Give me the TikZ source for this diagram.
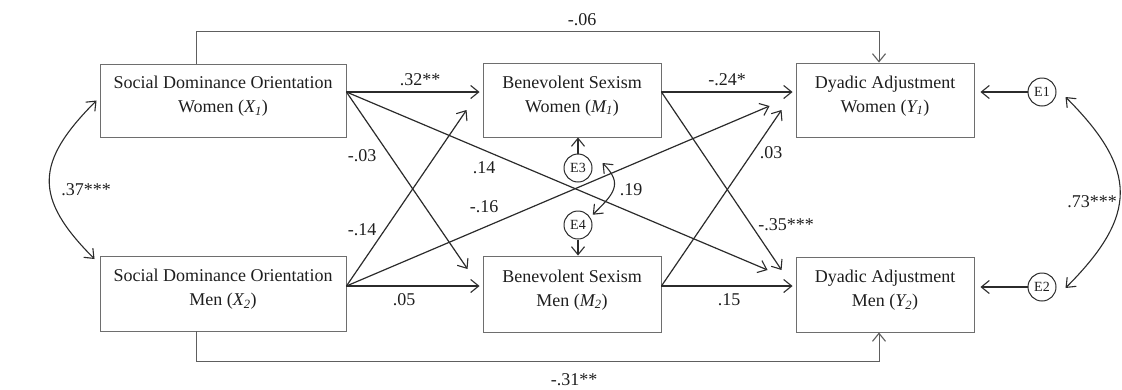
\documentclass[tikz,border=0pt]{standalone}
\usepackage{fontspec}
\setmainfont{Liberation Serif}
\usetikzlibrary{arrows.meta,calc}
\definecolor{boxgray}{HTML}{6E6E6E}
\definecolor{linec}{HTML}{2B2B2B}
\definecolor{txtc}{HTML}{1E1E1E}
\definecolor{pathgray}{HTML}{5E5E5E}
\begin{document}
\begin{tikzpicture}[x=1pt,y=1pt,
 box/.style={draw=boxgray, line width=0.9pt, inner sep=0pt},
 txt/.style={font=\fontsize{18}{24}\selectfont, text=txtc, inner sep=0pt, align=center},
 lbl/.style={font=\fontsize{18}{22}\selectfont, text=txtc, inner sep=0pt},
 err/.style={draw=linec, circle, line width=1pt, minimum size=28pt, inner sep=0pt, font=\fontsize{14}{16}\selectfont, text=txtc},
 arr/.style={draw=linec, line width=1.2pt, -{Straight Barb[length=8pt,width=13pt,line width=1.1pt]}},
 garr/.style={draw=pathgray, line width=1pt, -{Straight Barb[length=8pt,width=13pt,line width=1.1pt]}},
 dbl/.style={draw=linec, line width=1.1pt, {Straight Barb[length=8pt,width=13pt,line width=1.1pt]}-{Straight Barb[length=8pt,width=13pt,line width=1.1pt]}},
 ]
\useasboundingbox (0,0) rectangle (1122,-389);

% boxes
\node[box, minimum width=246pt, minimum height=73pt,
  label={[txt,yshift=4pt]center:{Social Dominance Orientation\\Women (\textit{X\textsubscript{1}})}}] (X1) at (223,-100.5) {};
\node[box, minimum width=246pt, minimum height=75pt,
  label={[txt,yshift=4pt]center:{Social Dominance Orientation\\Men (\textit{X\textsubscript{2}})}}] (X2) at (223,-293.5) {};
\node[box, minimum width=178pt, minimum height=74pt,
  label={[txt,yshift=4pt]center:{Benevolent Sexism\\Women (\textit{M\textsubscript{1}})}}] (M1) at (572,-100) {};
\node[box, minimum width=178pt, minimum height=76pt,
  label={[txt,yshift=4pt]center:{Benevolent Sexism\\Men (\textit{M\textsubscript{2}})}}] (M2) at (572,-294) {};
\node[box, minimum width=178pt, minimum height=74pt,
  label={[txt,yshift=4pt]center:{Dyadic Adjustment\\Women (\textit{Y\textsubscript{1}})}}] (Y1) at (885,-100) {};
\node[box, minimum width=178pt, minimum height=75pt,
  label={[txt,yshift=4pt]center:{Dyadic Adjustment\\Men (\textit{Y\textsubscript{2}})}}] (Y2) at (885,-294.5) {};

% error terms
\node[err] (E1) at (1042,-92) {E1};
\node[err] (E2) at (1042,-287) {E2};
\node[err] (E3) at (578,-168) {E3};
\node[err] (E4) at (578,-225) {E4};

% ports
\coordinate (X1o) at ([yshift=8.5pt]X1.east);
\coordinate (X2o) at ([yshift=7.5pt]X2.east);
\coordinate (M1o) at ([yshift=8pt]M1.east);
\coordinate (M2o) at ([yshift=8pt]M2.east);
\coordinate (M1a) at ([shift={(-3,8)}]M1.west);
\coordinate (M1b) at ([shift={(-16,-10)}]M1.west);
\coordinate (M2a) at ([shift={(-3,8)}]M2.west);
\coordinate (M2b) at ([shift={(-15,25)}]M2.west);
\coordinate (Y1a) at ([shift={(-3,8)}]Y1.west);
\coordinate (Y1b) at ([shift={(-26,-6)}]Y1.west);
\coordinate (Y1c) at ([shift={(-14,-10)}]Y1.west);
\coordinate (Y2a) at ([shift={(-3,8.5)}]Y2.west);
\coordinate (Y2b) at ([shift={(-28,24.5)}]Y2.west);
\coordinate (Y2c) at ([shift={(-14,24.5)}]Y2.west);
\coordinate (Y1e) at ([shift={(6,8)}]Y1.east);
\coordinate (Y2e) at ([shift={(6,7.5)}]Y2.east);
\coordinate (E3r) at ([shift={(10,5)}]E3.east);
\coordinate (E4r) at ([shift={(4.5,0)}]E4.north east);

% paths
\draw[arr] (X1o) -- (M1a);
\draw[arr] (X1o) -- (M2b);
\draw[arr] (X1o) -- (Y2b);
\draw[arr] (X2o) -- (M1b);
\draw[arr] (X2o) -- (Y1b);
\draw[arr] (X2o) -- (M2a);
\draw[arr] (M1o) -- (Y1a);
\draw[arr] (M1o) -- (Y2c);
\draw[arr] (M2o) -- (Y1c);
\draw[arr] (M2o) -- (Y2a);

\draw[garr] ([xshift=-27pt]X1.north) -- ++(0,32) -| ([xshift=-6pt]Y1.north);
\draw[garr] ([xshift=-27pt]X2.south) -- ++(0,-30) -| ([xshift=-6pt]Y2.south);

\draw[arr] (E1) -- (Y1e);
\draw[arr] (E2) -- (Y2e);
\draw[arr] (E3) -- (E3 |- M1.south);
\draw[arr] (E4) -- (E4 |- M2.north);

\draw[dbl] ([xshift=-3pt]X1.west) to[out=225,in=135,looseness=1.4] ([shift={(-5,34.5)}]X2.west);
\draw[dbl] ([shift={(9,-5)}]E1.east) to[out=-45,in=45,looseness=1.38] ([shift={(9,-1)}]E2.east);
\draw[dbl] (E3r) to[out=-45,in=45,looseness=1.45] (E4r);

% labels
\node[lbl] (l06) at (582,-20) {-.06};
\node[lbl] (l32) at (420,-80) {.32**};
\node[lbl] (l24) at (727,-80) {-.24*};
\node[lbl] (l03a) at (362,-156) {-.03};
\node[lbl] (l14a) at (484,-168) {.14};
\node[lbl] (l03b) at (771,-153) {.03};
\node[lbl] (l19) at (631,-190) {.19};
\node[lbl] (l14b) at (362,-230) {-.14};
\node[lbl] (l16) at (484,-207) {-.16};
\node[lbl] (l35) at (786,-225) {-.35***};
\node[lbl] (l05) at (404,-300) {.05};
\node[lbl] (l15) at (729,-300) {.15};
\node[lbl] (l31) at (574,-380) {-.31**};
\node[lbl] (l37) at (86,-190) {.37***};
\node[lbl] (l73) at (1092,-202) {.73***};
\end{tikzpicture}
\end{document}
